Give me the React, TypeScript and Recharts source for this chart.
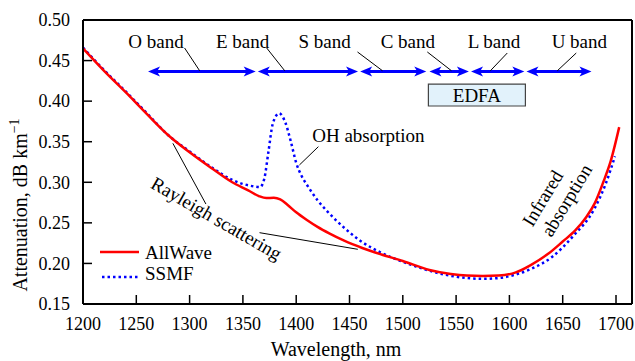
import {
    LineChart,
    Line,
    XAxis,
    YAxis,
    ReferenceLine,
    ReferenceDot,
    ReferenceArea,
    Legend
} from 'recharts';

const FONT = '"Liberation Serif", "DejaVu Serif", serif';
const RED = '#ff0000';
const BLUE = '#0000ff';

const X_TICKS = [1200, 1250, 1300, 1350, 1400, 1450, 1500, 1550, 1600, 1650, 1700];
const Y_TICKS = [0.15, 0.2, 0.25, 0.3, 0.35, 0.4, 0.45, 0.5];

// AllWave (low water peak fibre)
const ALLWAVE_NM = [1200, 1220, 1240, 1260, 1280, 1300, 1320, 1340, 1355, 1365, 1372, 1379, 1385, 1392, 1400, 1410, 1420, 1431, 1445, 1462, 1480, 1500, 1525, 1545, 1560, 1575, 1590, 1606, 1620, 1637, 1650, 1662, 1672, 1680, 1688, 1695, 1703];
const ALLWAVE_ATT = [0.465, 0.437, 0.411, 0.384, 0.358, 0.337, 0.318, 0.300, 0.290, 0.283, 0.2805, 0.281, 0.279, 0.272, 0.263, 0.2535, 0.245, 0.237, 0.228, 0.219, 0.211, 0.203, 0.192, 0.187, 0.185, 0.1845, 0.185, 0.189, 0.198, 0.2125, 0.227, 0.241, 0.257, 0.274, 0.300, 0.326, 0.368];

// standard single mode fibre
const SSMF_NM = [1200, 1220, 1240, 1260, 1280, 1300, 1320, 1340, 1350, 1360, 1366, 1370, 1374, 1378, 1384, 1390, 1395, 1400, 1405, 1410, 1420, 1430, 1445, 1460, 1480, 1500, 1520, 1540, 1560, 1575, 1590, 1605, 1620, 1640, 1660, 1680, 1690, 1699];
const SSMF_ATT = [0.466, 0.438, 0.412, 0.385, 0.358, 0.338, 0.319, 0.303, 0.298, 0.295, 0.294, 0.304, 0.338, 0.372, 0.385, 0.373, 0.350, 0.324, 0.308, 0.297, 0.278, 0.263, 0.244, 0.228, 0.213, 0.202, 0.193, 0.186, 0.182, 0.181, 0.182, 0.186, 0.193, 0.208, 0.234, 0.268, 0.297, 0.332];

const BAND_NAMES = ['O band', 'E band', 'S band', 'C band', 'L band', 'U band'];
const BAND_START = [1261, 1364, 1460, 1525, 1564, 1616];
const BAND_END = [1362, 1458, 1522, 1562, 1614, 1677];

const EDFA_RANGE = [1524, 1615];

// annotation placement (data coords)
const ARROW_Y = 0.4365;
const BAND_LABEL_Y = 0.4655;
const BAND_LABEL_NM = [1268.5, 1349.7, 1426.6, 1504.7, 1585.5, 1665.6];
const BAND_LEADERS = [
    [1295.3, 0.4655, 1309.4, 0.4375],
    [1372.3, 0.4655, 1389.2, 0.4375],
    [1457.5, 0.4606, 1480.9, 0.4375],
    [1523.0, 0.4606, 1545.6, 0.4375],
    [1598.0, 0.4593, 1582.2, 0.4375],
    [1662.7, 0.4593, 1645.0, 0.4375],
];

const allWave = ALLWAVE_NM.map((nm, i) => ({ nm, att: ALLWAVE_ATT[i] }));
const ssmf = SSMF_NM.map((nm, i) => ({ nm, att: SSMF_ATT[i] }));

const XTick = ({ x, y, payload }: any) => (
    <g>
        <line x1={x} y1={y} x2={x} y2={y - 9} stroke="#000" strokeWidth={1.5} />
        <text x={x} y={y + 26} textAnchor="middle" fontSize={18} fontFamily={FONT} fill="#000">
            {payload.value}
        </text>
    </g>
);

const YTick = ({ x, y, payload }: any) => (
    <g>
        <line x1={x} y1={y} x2={x + 9} y2={y} stroke="#000" strokeWidth={1.5} />
        <text x={x - 13} y={y} dy="0.35em" textAnchor="end" fontSize={18} fontFamily={FONT} fill="#000">
            {Number(payload.value).toFixed(2)}
        </text>
    </g>
);

const DoubleArrow = (p: any) => {
    const { x1, y1, x2 } = p;
    const h = 12;
    const w = 5;
    return (
        <g>
            <line x1={x1 + 6} y1={y1} x2={x2 - 6} y2={y1} stroke={BLUE} strokeWidth={3} />
            <path d={`M${x1},${y1} L${x1 + h},${y1 - w} L${x1 + h - 3},${y1} L${x1 + h},${y1 + w} Z`} fill={BLUE} />
            <path d={`M${x2},${y1} L${x2 - h},${y1 - w} L${x2 - h + 3},${y1} L${x2 - h},${y1 + w} Z`} fill={BLUE} />
        </g>
    );
};

const textShape = (label: string, opts: { angle?: number; anchor?: string; size?: number; center?: boolean }) => (p: any) => {
    const { angle = 0, anchor = 'middle', size = 19, center = false } = opts;
    return (
        <text
            x={p.cx}
            y={p.cy}
            dy={center ? '0.35em' : 0}
            transform={angle ? `rotate(${angle}, ${p.cx}, ${p.cy})` : undefined}
            textAnchor={anchor}
            fontSize={size}
            fontFamily={FONT}
            fill="#000"
        >
            {label}
        </text>
    );
};

const LegendBox = () => (
    <svg width={140} height={50}>
        <line x1={5} y1={14} x2={44} y2={14} stroke={RED} strokeWidth={2.5} />
        <text x={50} y={21} fontSize={19} fontFamily={FONT} fill="#000">AllWave</text>
        <line x1={7} y1={39} x2={44} y2={39} stroke={BLUE} strokeWidth={2.5} strokeDasharray="2.5 3" />
        <text x={50} y={42} fontSize={19} fontFamily={FONT} fill="#000">SSMF</text>
    </svg>
);

export default function App() {
    return (
        <div style={{ position: 'absolute', left: 0, top: 0, width: 635, height: 361, background: '#fff' }}>
            <LineChart width={635} height={361} margin={{ top: 20, right: 3, left: 23, bottom: 27 }}>
                <XAxis
                    dataKey="nm"
                    type="number"
                    domain={[1200, 1715]}
                    ticks={X_TICKS}
                    allowDataOverflow
                    height={30}
                    tickSize={0}
                    tickMargin={0}
                    tickLine={false}
                    axisLine={{ stroke: '#000', strokeWidth: 2 }}
                    tick={<XTick />}
                    label={{
                        content: () => (
                            <text x={336} y={356} textAnchor="middle" fontSize={20} fontFamily={FONT} fill="#000">
                                Wavelength, nm
                            </text>
                        )
                    }}
                />
                <YAxis
                    type="number"
                    domain={[0.15, 0.5]}
                    ticks={Y_TICKS}
                    allowDataOverflow
                    width={60}
                    tickSize={0}
                    tickMargin={0}
                    tickLine={false}
                    axisLine={{ stroke: '#000', strokeWidth: 2 }}
                    tick={<YTick />}
                    label={{
                        content: () => (
                            <text transform="translate(27,205) rotate(-90)" textAnchor="middle" fontSize={20} fontFamily={FONT} fill="#000">
                                Attenuation, dB km<tspan dy={-8} fontSize={14}>−1</tspan>
                            </text>
                        )
                    }}
                />
                <ReferenceLine y={0.5} stroke="#000" strokeWidth={2} />
                <ReferenceLine x={1715} stroke="#000" strokeWidth={2} />

                <ReferenceArea
                    x1={EDFA_RANGE[0]}
                    x2={EDFA_RANGE[1]}
                    y1={0.394}
                    y2={0.421}
                    fill="#e2f2fb"
                    fillOpacity={1}
                    stroke="#444"
                    strokeWidth={1.2}
                    label={{ value: 'EDFA', position: 'center', fontSize: 19, fontFamily: FONT, fill: '#000' }}
                />

                {BAND_NAMES.map((name, i) => (
                    <ReferenceLine
                        key={`arrow-${name}`}
                        segment={[{ x: BAND_START[i], y: ARROW_Y }, { x: BAND_END[i], y: ARROW_Y }]}
                        shape={DoubleArrow}
                    />
                ))}
                {BAND_LEADERS.map((l, i) => (
                    <ReferenceLine
                        key={`leader-${i}`}
                        segment={[{ x: l[0], y: l[1] }, { x: l[2], y: l[3] }]}
                        stroke="#000"
                        strokeWidth={1}
                    />
                ))}
                {BAND_NAMES.map((name, i) => (
                    <ReferenceDot key={`lbl-${name}`} x={BAND_LABEL_NM[i]} y={BAND_LABEL_Y} r={0} shape={textShape(name, {})} />
                ))}

                {/* OH absorption */}
                <ReferenceLine segment={[{ x: 1420.8, y: 0.3439 }, { x: 1403, y: 0.3213 }]} stroke="#000" strokeWidth={1} />
                <ReferenceDot x={1415} y={0.35} r={0} shape={textShape('OH absorption', { anchor: 'start' })} />

                {/* Rayleigh scattering */}
                <ReferenceLine segment={[{ x: 1284.3, y: 0.348 }, { x: 1315.3, y: 0.2732 }]} stroke="#000" strokeWidth={1} />
                <ReferenceLine segment={[{ x: 1365.6, y: 0.2379 }, { x: 1457.8, y: 0.2174 }]} stroke="#000" strokeWidth={1} />
                <ReferenceDot x={1325.3} y={0.2556} r={0} shape={textShape('Rayleigh scattering', { angle: 30, center: true })} />

                {/* Infrared absorption */}
                <ReferenceDot x={1631} y={0.2806} r={0} shape={textShape('Infrared', { angle: -59, center: true })} />
                <ReferenceDot x={1653.5} y={0.278} r={0} shape={textShape('absorption', { angle: -59, center: true })} />

                <Line
                    data={ssmf}
                    dataKey="att"
                    type="monotone"
                    stroke={BLUE}
                    strokeWidth={2.5}
                    strokeDasharray="2.5 3"
                    dot={false}
                    isAnimationActive={false}
                />
                <Line
                    data={allWave}
                    dataKey="att"
                    type="monotone"
                    stroke={RED}
                    strokeWidth={2.5}
                    dot={false}
                    isAnimationActive={false}
                />
                <Legend
                    layout="vertical"
                    align="center"
                    verticalAlign="middle"
                    content={() => <LegendBox />}
                    wrapperStyle={{ left: 95, top: 238, width: 140, height: 50 }}
                />
            </LineChart>
        </div>
    );
}
